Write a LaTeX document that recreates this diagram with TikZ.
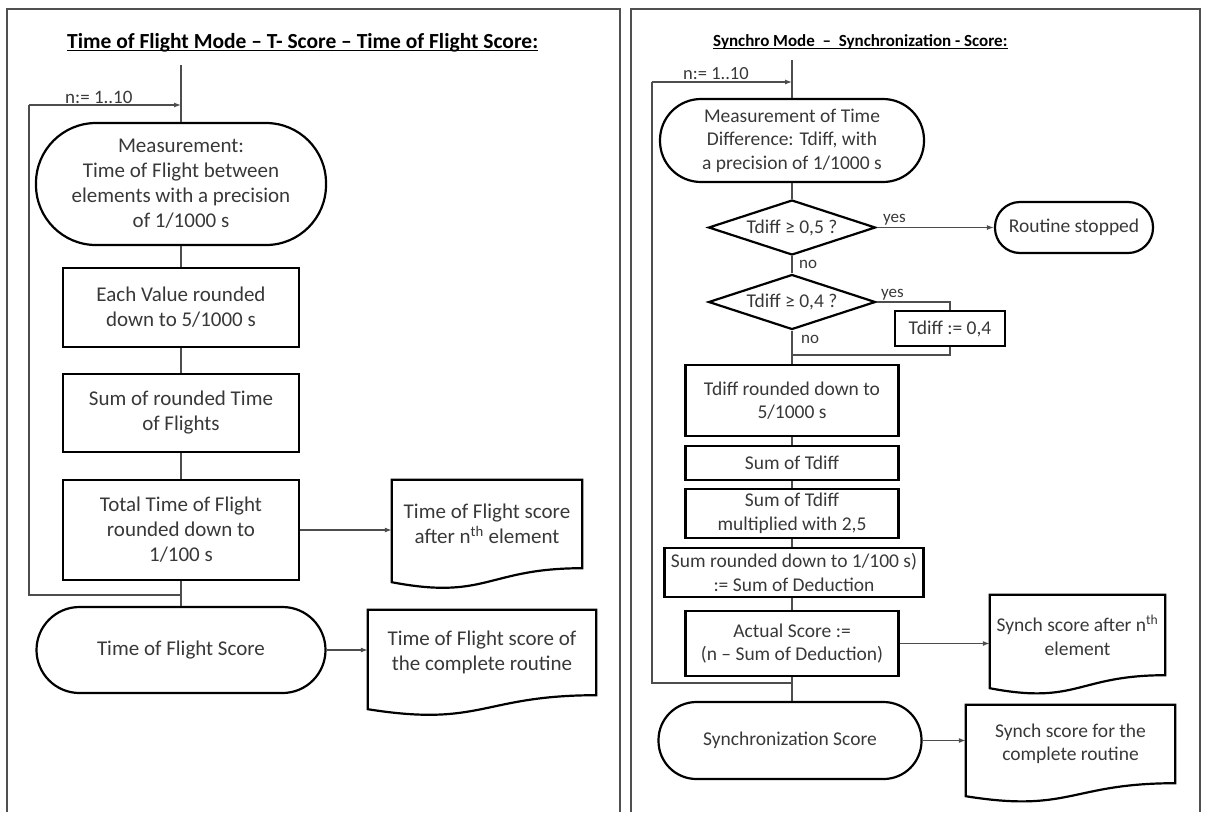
\documentclass[tikz,border=0pt]{standalone}
\usepackage{fontspec}
\setmainfont{Carlito}
\usetikzlibrary{shapes.geometric,arrows.meta,calc}
\definecolor{txt}{HTML}{383838}
\definecolor{conncol}{HTML}{4D4D4D}
\definecolor{framecol}{HTML}{505050}
\newcommand{\docpath}[2]{%
  \draw[line width=2.2pt, line join=miter] ($(#1.south west)+(0,#2)$) -- (#1.north west) -- (#1.north east) -- (#1.south east)
   .. controls (#1.south) and ($(#1.south)+(0,2.3*#2)$) .. ($(#1.south west)+(0,#2)$) -- cycle;}
\begin{document}
\begin{tikzpicture}[x=1pt,y=-1pt,
  every node/.style={text=txt},
  lt/.style={font=\fontsize{21}{25}\selectfont},
  rt/.style={font=\fontsize{19.5}{23.5}\selectfont},
  lbl/.style={font=\fontsize{17}{20}\selectfont, anchor=base west, inner sep=0pt},
  box/.style={draw=black, line width=2.2pt, inner sep=0pt, align=center, rectangle},
  dec/.style={draw=black, line width=2.2pt, inner sep=0pt, align=center, diamond, aspect=3},
  docn/.style={inner sep=0pt, align=center, rectangle},
  conn/.style={draw=conncol, line width=1.2pt},
  arr/.style={conn, -{Latex[length=7pt,width=5pt]}},
  framel/.style={draw=framecol, line width=1.5pt},
  ttl/.style={anchor=base west, inner sep=0pt, text=black}
]
\useasboundingbox (0,0) rectangle (1206,812);
% frames
\draw[framel] (7,812) -- (7,9) -- (620,9) -- (620,812);
\draw[framel] (631,812) -- (631,9) -- (1200,9) -- (1200,812);
% titles
\node[ttl, font=\fontsize{21.5}{25}\selectfont\bfseries] (t1) at (67,48) {Time of Flight Mode – T- Score – Time of Flight Score:};
\draw[line width=1pt] ([yshift=-2pt]t1.base west) -- ([yshift=-2pt]t1.base east);
\node[ttl, font=\fontsize{17}{21}\selectfont\bfseries] (t2) at (713,46) {Synchro Mode \ – \ Synchronization - Score:};
\draw[line width=1pt] ([yshift=-2pt]t2.base west) -- ([yshift=-2pt]t2.base east);

% ---------- left panel ----------
\node[box, lt, rounded corners=60, minimum width=290, minimum height=122] (meas) at (181,184) {Measurement:\\Time of Flight between\\elements with a precision\\of 1/1000 s};
\node[box, lt, minimum width=236, minimum height=79] (each) at (181,307.5) {Each Value rounded\\down to 5/1000 s};
\node[box, lt, minimum width=236, minimum height=78] (sumr) at (181,413) {Sum of rounded Time\\of Flights};
\node[box, lt, minimum width=236, minimum height=100] (tot) at (181,530) {Total Time of Flight\\rounded down to\\1/100 s};
\node[box, lt, rounded corners=43, minimum width=289, minimum height=86] (tofs) at (181,650) {Time of Flight Score};
\node[docn, lt, minimum width=190, minimum height=88] (doc1) at (487,524) {Time of Flight score\\after n\textsuperscript{th} element};
\docpath{doc1}{14}
\node[docn, lt, minimum width=228, minimum height=85] (doc2) at (482,652.5) {Time of Flight score of\\the complete routine};
\docpath{doc2}{14}
\node[lbl, font=\fontsize{19}{22}\selectfont] (nl) at (65,103) {n:= 1..10};
\coordinate (ltop) at (181,65);
\coordinate (lloopT) at (29,105);
\coordinate (lloopB) at (29,595);
\draw[conn] (ltop) -- (meas.north);
\draw[arr] (lloopT) -- (lloopT -| meas.north);
\draw[conn] (lloopT) -- (lloopB) -- (lloopB -| tot.south);
\draw[conn] (meas) -- (each);
\draw[conn] (each) -- (sumr);
\draw[conn] (sumr) -- (tot);
\draw[conn] (tot) -- (tofs);
\draw[arr] (tot.east) -- (tot.east -| doc1.west);
\draw[arr] (tofs.east) -- (tofs.east -| doc2.west);

% ---------- right panel ----------
\node[box, rt, rounded corners=41, minimum width=264, minimum height=83] (smeas) at (792,140.5) {Measurement of Time\\Difference: Tdiff, with\\a precision of 1/1000 s};
\node[dec, rt, minimum width=167, minimum height=55] (d1) at (792,227.5) {Tdiff ≥ 0,5 ?};
\node[box, rt, rounded corners=25, minimum width=158, minimum height=51] (stop) at (1074,227.5) {Routine stopped};
\node[dec, rt, minimum width=167, minimum height=55] (d2) at (792,302) {Tdiff ≥ 0,4 ?};
\node[box, rt, minimum width=110, minimum height=35] (set) at (950,328.5) {Tdiff := 0,4};
\node[box, rt, minimum width=213, minimum height=71] (trd) at (792,400.5) {Tdiff rounded down to\\5/1000 s};
\node[box, rt, minimum width=213, minimum height=34] (sumt) at (792,463) {Sum of Tdiff};
\node[box, rt, minimum width=213, minimum height=49] (mult) at (792,513.5) {Sum of Tdiff\\multiplied with 2,5};
\node[box, rt, minimum width=259, minimum height=49] (srd) at (794,572.5) {Sum rounded down to 1/100 s)\\:= Sum of Deduction};
\node[box, rt, minimum width=213, minimum height=65] (act) at (792,643.5) {Actual Score :=\\(n – Sum of Deduction)};
\node[box, rt, rounded corners=38, minimum width=263, minimum height=77] (ssc) at (790,740.5) {Synchronization Score};
\node[docn, rt, minimum width=175, minimum height=80] (rdoc1) at (1077.5,635) {Synch score after n\textsuperscript{th}\\element};
\docpath{rdoc1}{13}
\node[docn, rt, minimum width=209, minimum height=78] (rdoc2) at (1070.5,744) {Synch score for the\\complete routine};
\docpath{rdoc2}{13}
\node[lbl, font=\fontsize{18.5}{21}\selectfont] (nr) at (683,79) {n:= 1..10};
\node[lbl] (yes1) at (883,222) {yes};
\node[lbl] (no1) at (799,268) {no};
\node[lbl] (yes2) at (881,297) {yes};
\node[lbl] (no2) at (801,343) {no};
\coordinate (rtop) at (792,60);
\coordinate (rloopT) at (652,82);
\coordinate (rloopB) at (652,683);
\coordinate (joinc) at (792,355);
\draw[conn] (rtop) -- (smeas.north);
\draw[arr] (rloopT) -- (rloopT -| smeas.north);
\draw[conn] (rloopT) -- (rloopB) -- (rloopB -| act.south);
\draw[conn] (smeas) -- (d1);
\draw[arr] (d1.east) -- (stop.west);
\draw[conn] (d1) -- (d2);
\draw[conn] (d2.east) -| (set.north);
\draw[conn] (set.south) |- (joinc);
\draw[conn] (d2) -- (trd);
\draw[conn] (trd) -- (sumt);
\draw[conn] (sumt) -- (mult);
\draw[conn] (mult.south) -- (mult.south |- srd.north);
\draw[conn] (act.north |- srd.south) -- (act.north);
\draw[conn] (act.south) -- (act.south |- ssc.north);
\draw[arr] (act.east) -- (act.east -| rdoc1.west);
\draw[arr] (ssc.east) -- (ssc.east -| rdoc2.west);
\end{tikzpicture}
\end{document}
